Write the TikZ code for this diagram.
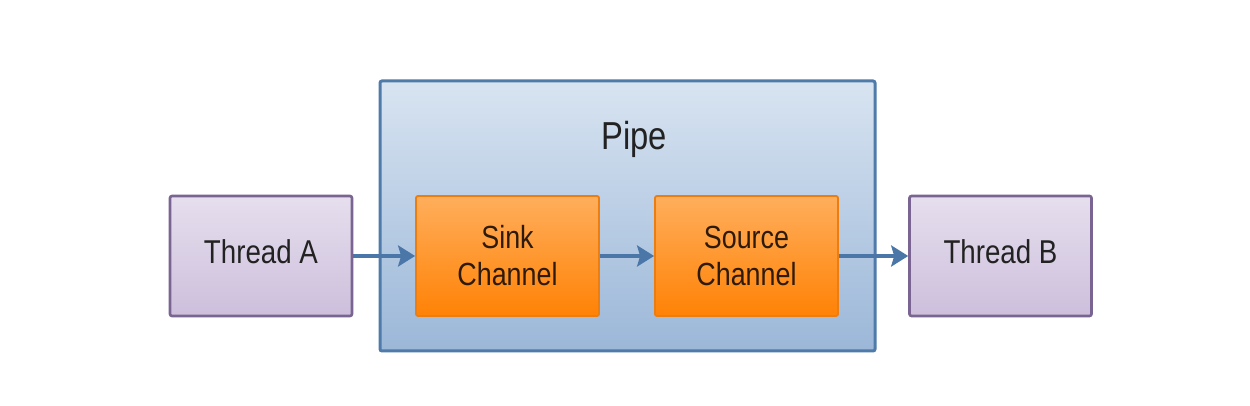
\documentclass[tikz,border=0pt]{standalone}
\usepackage{fontspec}
\setmainfont{Liberation Sans}[FakeStretch=0.84]
\usetikzlibrary{arrows.meta}
\definecolor{thrfillT}{HTML}{E6DFEE}
\definecolor{thrfillB}{HTML}{CDBFDC}
\definecolor{thrline}{HTML}{7A6592}
\definecolor{pipefillT}{HTML}{D8E4F1}
\definecolor{pipefillB}{HTML}{9BB7D8}
\definecolor{pipeline}{HTML}{4E7BA9}
\definecolor{orgT}{HTML}{FFAE5C}
\definecolor{orgB}{HTML}{FF8205}
\definecolor{orgline}{HTML}{EE7D10}
\definecolor{arrowc}{HTML}{4A77A8}
\definecolor{txtc}{HTML}{222222}
\definecolor{chtxt}{HTML}{2E1A08}
\begin{document}
\begin{tikzpicture}[x=1pt,y=1pt,
  threadbox/.style={draw=thrline, line width=2.6pt, top color=thrfillT, bottom color=thrfillB,
    rounded corners=2pt, minimum width=182pt, minimum height=120pt, inner sep=0pt,
    text=txtc, font=\fontsize{33}{38}\selectfont, text height=24pt, text depth=8pt},
  chanbox/.style={draw=orgline, line width=1.8pt, top color=orgT, bottom color=orgB,
    rounded corners=2pt, minimum width=183pt, minimum height=120pt, inner sep=0pt,
    text=chtxt, font=\fontsize{32}{37}\selectfont, align=center},
  pipebox/.style={draw=pipeline, line width=3pt, top color=pipefillT, bottom color=pipefillB,
    rounded corners=2pt, minimum width=495pt, minimum height=270pt, inner sep=0pt},
  flow/.style={draw=arrowc, line width=3.4pt, -{Stealth[length=17pt,width=21pt,inset=3pt]}}
]
\useasboundingbox[fill=white] (0,0) rectangle (1250,406);
\node[pipebox] (pipe) at (627.5,190) {};
\node[anchor=base, text=txtc, font=\fontsize{39}{44}\selectfont] (pipelabel) at (634,256) {Pipe};
\node[threadbox] (ta) at (261,150) {Thread A};
\node[chanbox] (sink) at (507.5,150) {Sink\\Channel};
\node[chanbox] (source) at (746.5,150) {Source\\Channel};
\node[threadbox] (tb) at (1000.5,150) {Thread B};
\draw[flow] (ta.east) -- (sink.west);
\draw[flow] (sink.east) -- (source.west);
\draw[flow] (source.east) -- (tb.west);
\end{tikzpicture}
\end{document}
